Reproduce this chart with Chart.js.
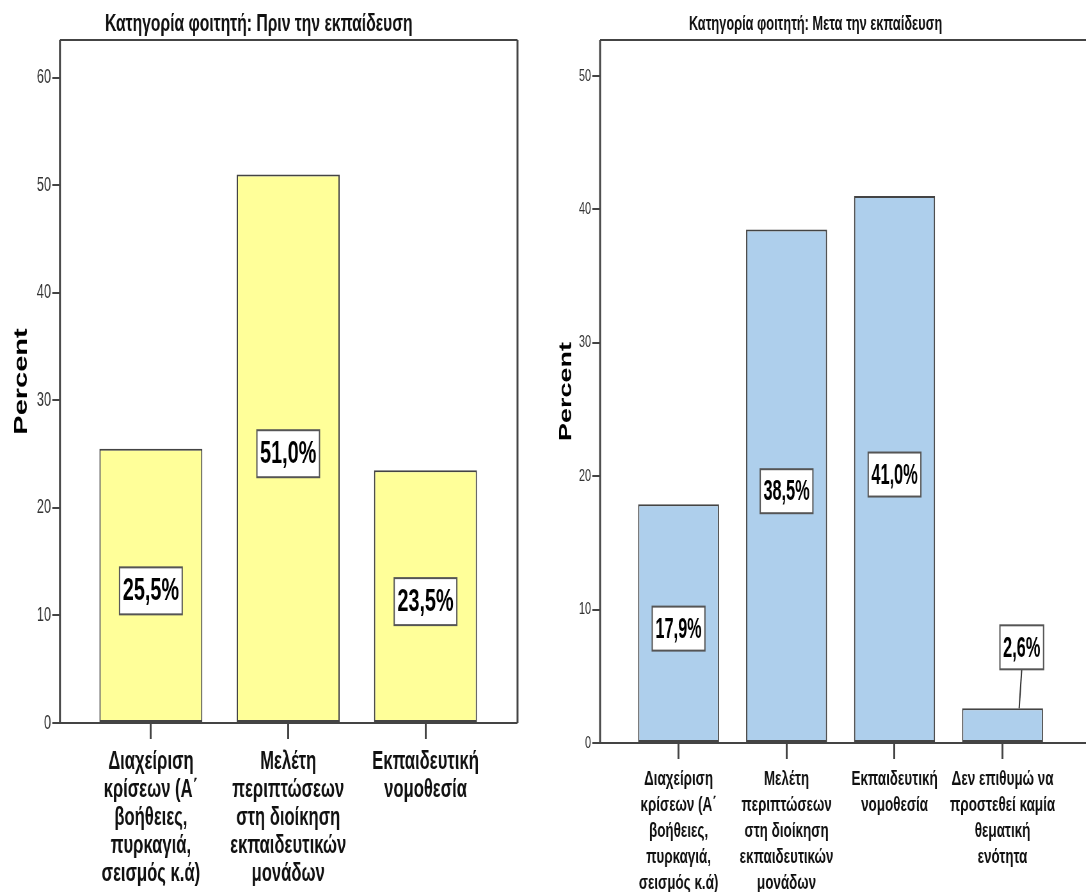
<!DOCTYPE html>
<html>
<head>
<meta charset="utf-8">
<script src="https://cdn.jsdelivr.net/npm/chart.js@4.4.0/dist/chart.umd.min.js"></script>
<style>
  body { margin: 0; background: #fff; }
  #wrap { position: relative; width: 1086px; height: 892px; overflow: hidden; }
  canvas { position: absolute; top: 0; }
</style>
</head>
<body>
<div id="wrap">
  <!-- drawn wide, shown narrow: the SPSS export is squeezed sideways -->
  <canvas id="before" width="852" height="892" style="left:0;width:545px;height:892px"></canvas>
  <canvas id="after" width="845" height="892" style="left:545px;width:541px;height:892px"></canvas>
</div>
<script>
'use strict'

const beforeTitle = 'Κατηγορία φοιτητή: Πριν την εκπαίδευση';
const afterTitle = 'Κατηγορία φοιτητή: Μετα την εκπαίδευση';

const beforeCategories = [
  ['Διαχείριση', 'κρίσεων (Α΄', 'βοήθειες,', 'πυρκαγιά,', 'σεισμός κ.ά)'],
  ['Μελέτη', 'περιπτώσεων', 'στη διοίκηση', 'εκπαιδευτικών', 'μονάδων'],
  ['Εκπαιδευτική', 'νομοθεσία']
];
const afterCategories = [
  ['Διαχείριση', 'κρίσεων (Α΄', 'βοήθειες,', 'πυρκαγιά,', 'σεισμός κ.ά)'],
  ['Μελέτη', 'περιπτώσεων', 'στη διοίκηση', 'εκπαιδευτικών', 'μονάδων'],
  ['Εκπαιδευτική', 'νομοθεσία'],
  ['Δεν επιθυμώ να', 'προστεθεί καμία', 'θεματική', 'ενότητα']
];

const beforePercent = [25.5, 51.0, 23.5];
const afterPercent = [17.9, 38.5, 41.0, 2.6];

const beforeTicks = [0, 10, 20, 30, 40, 50, 60];
const afterTicks = [0, 10, 20, 30, 40, 50];

const FONT = '"Liberation Sans", Arial, sans-serif';

// white boxed percentage in the middle of each bar (above it when the bar is too short)
const valueBoxes = {
  id: 'valueBoxes',
  afterDatasetsDraw(chart, args, opts) {
    const ctx = chart.ctx;
    const meta = chart.getDatasetMeta(0);
    const yScale = chart.scales.y;
    const data = chart.data.datasets[0].data;
    ctx.save();
    ctx.font = 'bold ' + opts.size + 'px ' + FONT;
    ctx.textAlign = 'center';
    ctx.textBaseline = 'middle';
    meta.data.forEach(function (bar, i) {
      const value = data[i].y;
      const text = value.toFixed(1).replace('.', ',') + '%';
      const w = ctx.measureText(text).width * opts.narrow + 10;
      const h = opts.size + opts.padY;
      let cx = bar.x;
      let cy = yScale.getPixelForValue(value / 2) + 5;
      if (bar.base - bar.y < h + 20) {
        cx = bar.x + 30;
        cy = bar.y - 61;
        ctx.strokeStyle = '#333';
        ctx.lineWidth = 2;
        ctx.beginPath();
        ctx.moveTo(cx, cy + h / 2);
        ctx.lineTo(cx - 4, bar.y);
        ctx.stroke();
      }
      ctx.fillStyle = '#fff';
      ctx.fillRect(cx - w / 2, cy - h / 2, w, h);
      ctx.strokeStyle = '#555';
      ctx.lineWidth = 2;
      ctx.strokeRect(cx - w / 2, cy - h / 2, w, h);
      ctx.save();
      ctx.translate(cx, cy + 1);
      ctx.scale(opts.narrow, 1);
      ctx.fillStyle = '#000';
      ctx.fillText(text, 0, 0);
      ctx.restore();
    });
    ctx.restore();
  }
};

// box around the plot area
const frame = {
  id: 'frame',
  afterDraw(chart, args, opts) {
    const a = chart.chartArea;
    const ctx = chart.ctx;
    ctx.save();
    ctx.strokeStyle = '#444';
    ctx.lineWidth = 2;
    ctx.beginPath();
    ctx.moveTo(a.left, a.top);
    ctx.lineTo(a.right, a.top);
    ctx.moveTo(a.left, a.bottom);
    ctx.lineTo(a.right, a.bottom);
    ctx.stroke();
    ctx.lineWidth = 3;
    ctx.beginPath();
    ctx.moveTo(a.left, a.top);
    ctx.lineTo(a.left, a.bottom);
    if (opts.right) {
      ctx.moveTo(a.right, a.top);
      ctx.lineTo(a.right, a.bottom);
    }
    ctx.stroke();
    ctx.restore();
  }
};

function makePanel(id, p) {
  const points = p.values.map(function (v, i) { return { x: i + 1, y: v }; });
  return new Chart(document.getElementById(id), {
    type: 'bar',
    data: {
      datasets: [{
        data: points,
        backgroundColor: p.fill,
        borderColor: '#444',
        borderWidth: 2,
        borderSkipped: false,
        categoryPercentage: 1,
        barPercentage: 0.75
      }]
    },
    plugins: [valueBoxes, frame],
    options: {
      responsive: false,
      devicePixelRatio: 1,
      animation: false,
      layout: { padding: { left: 0, right: p.padRight, top: 0, bottom: 0 } },
      plugins: {
        legend: { display: false },
        tooltip: { enabled: false },
        title: {
          display: true,
          text: p.title,
          color: '#111',
          font: { family: FONT, size: p.titleSize, weight: 'bold' },
          padding: { top: p.titlePadTop, bottom: 40 - p.titlePadTop - p.titleSize * 1.2 }
        },
        valueBoxes: { size: p.valueSize, narrow: p.valueNarrow, padY: p.valuePadY },
        frame: { right: p.rightEdge }
      },
      scales: {
        x: {
          type: 'linear',
          offset: false,
          min: p.xMin,
          max: p.xMax,
          border: { display: false },
          grid: { offset: false, drawOnChartArea: false, drawTicks: true, tickLength: 16, color: '#444', lineWidth: 3 },
          afterBuildTicks: function (scale) {
            scale.ticks = p.categories.map(function (c, i) { return { value: i + 1 }; });
          },
          afterFit: function (scale) { scale.height = p.xHeight; },
          ticks: {
            autoSkip: false,
            maxRotation: 0,
            minRotation: 0,
            padding: p.xPad,
            color: '#111',
            font: { family: FONT, size: p.catSize, weight: 'bold', lineHeight: p.catLine },
            callback: function (v) { return p.categories[v - 1]; }
          }
        },
        y: {
          min: 0,
          max: p.yMax,
          border: { display: false },
          grid: { drawOnChartArea: false, drawTicks: true, tickLength: 12, color: '#444', lineWidth: 2 },
          afterBuildTicks: function (scale) {
            scale.ticks = p.ticks.map(function (v) { return { value: v }; });
          },
          afterFit: function (scale) { scale.width = p.yWidth; },
          ticks: {
            padding: 2,
            color: '#333',
            font: { family: FONT, size: p.tickSize }
          },
          title: {
            display: true,
            text: 'Percent',
            color: '#000',
            font: { family: FONT, size: p.pctSize, weight: 'bold' },
            padding: { top: 34 - p.pctSize * 0.6, bottom: 0 }
          }
        }
      }
    }
  });
}

makePanel('before', {
  title: beforeTitle, categories: beforeCategories, values: beforePercent, ticks: beforeTicks,
  fill: '#ffff99', yMax: 63.5, xMin: 0.338, xMax: 3.67,
  yWidth: 93.75, xHeight: 169, padRight: 43, rightEdge: true,
  titleSize: 24.5, titlePadTop: 10, catSize: 26, catLine: '28px', xPad: 9,
  tickSize: 20, pctSize: 29, valueSize: 31, valueNarrow: 1, valuePadY: 16
});

makePanel('after', {
  title: afterTitle, categories: afterCategories, values: afterPercent, ticks: afterTicks,
  fill: '#aecfec', yMax: 52.7, xMin: 0.273, xMax: 4.773,
  yWidth: 86, xHeight: 149, padRight: 0, rightEdge: false,
  titleSize: 20, titlePadTop: 12, catSize: 21, catLine: '26px', xPad: 7,
  tickSize: 17, pctSize: 27, valueSize: 30, valueNarrow: 0.85, valuePadY: 14
});
</script>
</body>
</html>
